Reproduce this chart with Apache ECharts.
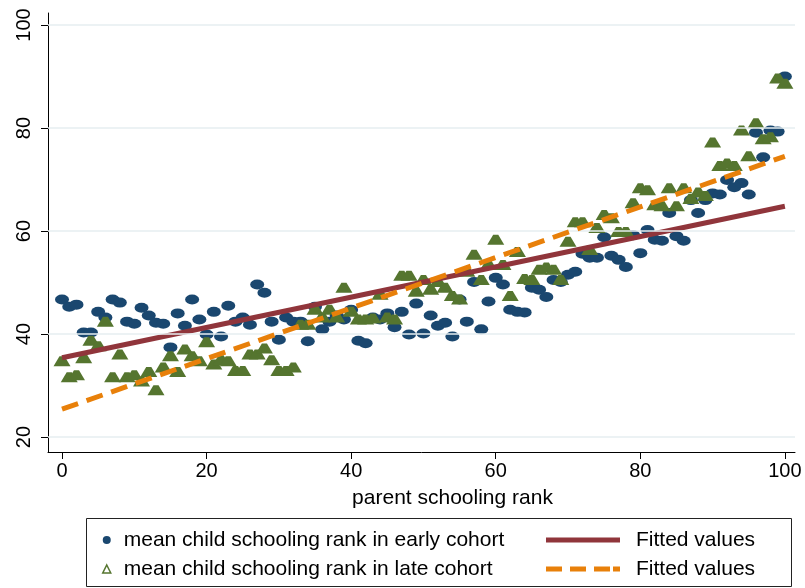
<!DOCTYPE html>
<html>
<head>
<meta charset="utf-8">
<script src="https://cdn.jsdelivr.net/npm/echarts@6/dist/echarts.min.js"></script>
<style>html,body{margin:0;padding:0;background:#fff}#c{width:805px;height:588px}</style>
</head>
<body>
<div id="c"></div>
<script>
// parent schooling rank 0..100 (index)
const earlyCohort = [46.7,45.3,45.7,40.3,40.3,44.3,43.2,46.7,46.1,42.4,42.0,45.1,43.6,42.2,42.0,37.4,44.0,41.6,46.7,42.8,
  39.9,44.3,39.5,45.5,42.4,43.2,41.8,49.6,48.0,42.4,38.9,43.2,42.4,42.4,38.6,45.3,40.9,42.4,43.6,42.8,
  44.7,38.7,38.2,43.2,42.8,44.0,41.3,44.3,39.9,45.9,40.1,43.6,41.6,42.2,39.5,46.7,42.4,50.1,40.9,46.3,
  50.9,49.6,44.7,44.3,44.2,49.0,48.6,47.2,50.5,50.1,51.5,52.1,55.6,54.8,54.8,58.8,55.2,54.4,53.0,59.2,
  55.7,60.2,58.3,58.1,63.5,59.0,58.1,66.0,63.5,66.0,67.3,67.1,69.9,68.5,69.3,67.1,79.1,74.3,79.5,79.3,90.0];
const lateCohort = [34.7,31.6,32.0,35.3,38.7,37.6,42.4,31.6,36.0,31.6,32.0,30.8,32.6,29.1,33.5,35.7,32.6,37.0,35.7,34.7,
  38.4,34.1,34.9,34.7,32.8,32.8,36.0,36.0,37.2,34.9,32.8,32.8,33.5,41.8,41.8,44.7,43.2,44.7,43.2,49.0,
  44.3,42.8,42.8,43.0,47.6,43.2,42.8,51.3,51.3,48.2,50.5,48.6,50.1,49.0,47.4,46.7,52.1,55.4,50.5,53.4,
  58.3,53.4,47.4,55.9,50.7,50.5,52.5,52.9,52.5,50.5,57.9,61.7,61.7,56.3,60.6,63.1,62.5,59.8,59.8,65.4,
  68.3,67.9,65.0,64.8,68.3,64.8,68.3,66.2,67.5,66.8,77.2,72.6,73.1,72.6,79.5,74.5,80.9,77.8,78.2,89.6,88.6];
const fitEarly = [[0, 35.4], [100, 64.8]];
const fitLate = [[0, 25.4], [100, 74.5]];
const xTicks = [0, 20, 40, 60, 80, 100];
const yTicks = [20, 40, 60, 80, 100];
const names = {
  early: 'mean child schooling rank in early cohort',
  late: 'mean child schooling rank in late cohort',
  fitE: 'Fitted values (early)',
  fitL: 'Fitted values (late)'
};

const FONT = 'Liberation Sans, Arial, sans-serif';
const navy = '#1a476f', maroon = '#90353b', green = '#55752f', orange = '#e8800a';
const trap = 'path://M3.5,0 L6.5,0 L10,10 L0,10 Z';
const dashIcon = 'path://M0,0h16v5h-16z M24,0h16v5h-16z M48,0h16v5h-16z M67,0h7v5h-7z';

const chart = echarts.init(document.getElementById('c'), null, {renderer: 'canvas'});
chart.setOption({
  animation: false,
  backgroundColor: '#fff',
  textStyle: {fontFamily: FONT},
  grid: {left: 48, right: 10, top: 13, bottom: 136},
  xAxis: {
    type: 'value', min: -1.94, max: 101.4,
    name: 'parent schooling rank', nameLocation: 'middle', nameGap: 36,
    nameTextStyle: {fontSize: 21, color: '#000', fontFamily: FONT, padding: [0, 0, 0, 62]},
    axisLine: {show: true, onZero: false, lineStyle: {color: '#000', width: 1}},
    axisTick: {show: true, length: 7, customValues: xTicks, lineStyle: {color: '#000'}},
    axisLabel: {customValues: xTicks, fontSize: 20, color: '#000', margin: 9, fontFamily: FONT},
    splitLine: {show: false}
  },
  yAxis: {
    type: 'value', min: 17.09, max: 102.33,
    axisLine: {show: true, onZero: false, lineStyle: {color: '#000', width: 1}},
    axisTick: {show: true, length: 7, customValues: yTicks, lineStyle: {color: '#000'}},
    axisLabel: {customValues: yTicks, fontSize: 20, color: '#000', rotate: 90, margin: 14, fontFamily: FONT},
    splitLine: {show: false}
  },
  legend: [
    {
      orient: 'vertical', left: 102, top: 528, height: 70, padding: 0,
      itemWidth: 8, itemHeight: 8, itemGap: 5,
      textStyle: {fontSize: 21, color: '#000', lineHeight: 24, padding: [0, 0, 0, 8], fontFamily: FONT},
      data: [
        {name: names.early, icon: 'circle', itemStyle: {color: navy}},
        {name: names.late, icon: 'triangle', itemStyle: {color: '#fff', borderColor: green, borderWidth: 1.5}}
      ]
    },
    {
      orient: 'vertical', left: 546, top: 528, height: 70, padding: 0,
      itemWidth: 74, itemHeight: 5, itemGap: 5,
      formatter: () => 'Fitted values',
      textStyle: {fontSize: 21, color: '#000', lineHeight: 24, padding: [0, 0, 0, 11], fontFamily: FONT},
      data: [
        {name: names.fitE, icon: 'rect', itemStyle: {color: maroon}},
        {name: names.fitL, icon: dashIcon, itemStyle: {color: orange}}
      ]
    }
  ],
  graphic: [{
    type: 'rect', left: 84, top: 516, shape: {width: 705, height: 68},
    style: {fill: 'none', stroke: '#222', lineWidth: 1}, silent: true
  }],
  series: [
    {
      type: 'scatter', name: '_grid', data: [], z: 0, silent: true,
      markLine: {
        silent: true, symbol: 'none', label: {show: false},
        lineStyle: {color: '#e6eef0', width: 1.5, type: 'solid'},
        data: yTicks.map(v => ({yAxis: v}))
      }
    },
    {
      type: 'scatter', name: names.early, symbol: 'circle', symbolSize: [14, 10],
      itemStyle: {color: navy, opacity: 1},
      data: earlyCohort.map((v, i) => [i, v]), z: 2
    },
    {
      type: 'scatter', name: names.late, symbol: trap, symbolSize: [17, 10],
      itemStyle: {color: green, opacity: 1},
      data: lateCohort.map((v, i) => [i, v]), z: 3
    },
    {
      type: 'line', name: names.fitE, data: fitEarly, showSymbol: false, symbol: 'none',
      lineStyle: {color: maroon, width: 5}, itemStyle: {color: maroon}, z: 4
    },
    {
      type: 'line', name: names.fitL, data: fitLate, showSymbol: false, symbol: 'none',
      lineStyle: {color: orange, width: 5, type: [17, 9]}, itemStyle: {color: orange}, z: 5
    }
  ]
});
</script>
</body>
</html>
